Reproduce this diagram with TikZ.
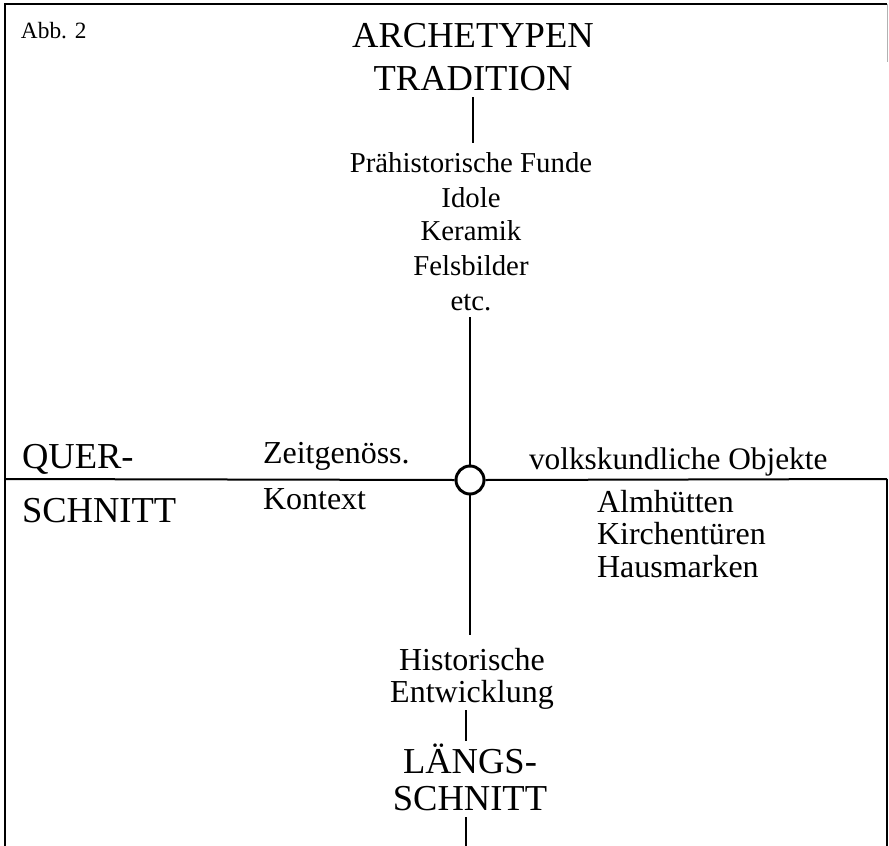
\documentclass[tikz,border=0pt]{standalone}
\usepackage{fontspec}
\setmainfont{Liberation Serif}
\usepackage{tikz}

\begin{document}
\begin{tikzpicture}[x=0.75pt,y=0.75pt,yscale=-1,xscale=1,
  lbl/.style={inner sep=0pt,outer sep=0pt,anchor=base},
  bigtxt/.style={font=\fontsize{27.4}{32}\selectfont},
  midtxt/.style={font=\fontsize{21.6}{26}\selectfont},
  lowtxt/.style={font=\fontsize{24}{29}\selectfont},
  smalltxt/.style={font=\fontsize{17.5}{20}\selectfont},
  frame/.style={line width=1.9pt},
  stem/.style={line width=1.8pt},
  cut/.style={line width=1.5pt}]
\useasboundingbox (0,0) rectangle (889,846);

%Shape: Frame
\draw [frame] (5,846) -- (5,4) -- (887,4) ;
\draw [frame] (887,479) -- (887,846) ;
\draw [gray!60, line width=0.6pt] (887,4) -- (887,62) ;

% Text Node
\node [lbl,smalltxt,anchor=base west] (abb) at (21,38) {Abb. 2};
% Text Node
\node [lbl,bigtxt] (arch) at (473,47) {ARCHETYPEN};
\node [lbl,bigtxt] (trad) at (473,90) {TRADITION};
% Text Node
\node [lbl,midtxt] (funde) at (471,172) {Prähistorische Funde};
\node [lbl,midtxt] (idole) at (471,207) {Idole};
\node [lbl,midtxt] (keramik) at (471,240) {Keramik};
\node [lbl,midtxt] (fels) at (471,275) {Felsbilder};
\node [lbl,midtxt] (etc) at (471,310) {etc.};

%Shape: Circle
\node [circle,draw,line width=2.2pt,minimum size=21pt,inner sep=0pt] (hub) at (470,480) {};

% Text Node
\node [lbl,bigtxt,anchor=base west] (quer) at (22,468) {QUER-};
\node [lbl,bigtxt,anchor=base west] (schnittq) at (22,522) {SCHNITT};
% Text Node
\node [lbl,lowtxt,anchor=base west] (zeit) at (263,463) {Zeitgenöss.};
\node [lbl,lowtxt,anchor=base west] (kontext) at (263,509) {Kontext};
% Text Node
\node [lbl,font=\fontsize{23.5}{28}\selectfont,anchor=base west] (volk) at (529,469) {volkskundliche Objekte};
\node [lbl,lowtxt,anchor=base west] (alm) at (597,512) {Almhütten};
\node [lbl,lowtxt,anchor=base west] (kirch) at (597,544) {Kirchentüren};
\node [lbl,lowtxt,anchor=base west] (haus) at (597,577) {Hausmarken};
% Text Node
\node [lbl,lowtxt] (hist) at (472,670) {Historische};
\node [lbl,lowtxt] (entw) at (472,702) {Entwicklung};
% Text Node
\node [lbl,bigtxt] (laengs) at (470,773) {LÄNGS-};
\node [lbl,bigtxt] (schnittl) at (470,810) {SCHNITT};

\coordinate (qL) at (5,479);
\coordinate (qR) at (887,479);
\coordinate (bot) at (466,846);

% Connectors
\draw [stem,shorten <=5.25pt,shorten >=7pt] (trad.south) -- (trad.south |- funde.north) ;
\draw [stem,shorten <=5.25pt] (hub.north |- etc.south) -- (hub.north) ;
\draw [stem,shorten >=9.75pt] (hub.south) -- (hub.south |- hist.north) ;
\draw [stem,shorten <=1pt,shorten >=1.5pt] ([xshift=-4.5pt]entw.south) -- ([xshift=-4.5pt]entw.south |- laengs.north) ;
\draw [stem,shorten <=5.25pt] (bot |- schnittl.south) -- (bot) ;
\draw [cut] (qL) -- (hub.west) ;
\draw [cut] (hub.east) -- (qR) ;
\end{tikzpicture}
\end{document}
